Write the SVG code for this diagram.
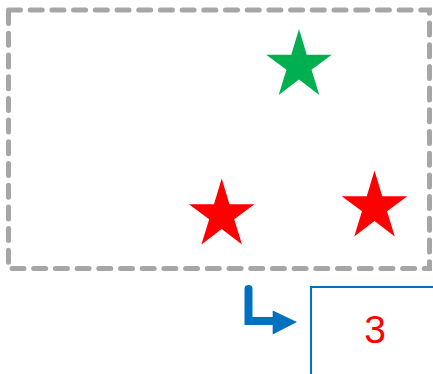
<svg xmlns="http://www.w3.org/2000/svg" width="433" height="374" viewBox="0 0 433 374">
<style>
.frame{fill:none;stroke:#A6A6A6;stroke-width:5;stroke-dasharray:12 9.7;stroke-linecap:round}
.box{fill:#FFFFFF;stroke:#0070C0;stroke-width:2}
.lbl{font-family:"Liberation Sans",Arial,sans-serif;font-size:39px;fill:#FF0000;text-anchor:middle}
.conn{fill:none;stroke:#0070C0;stroke-width:8;stroke-linecap:round;stroke-linejoin:miter}
</style>
<defs>
<path id="star" d="M0,0 L7.75,25.8 L32.8,25.8 L12.53,40.8 L20.3,66 L0,50.4 L-20.3,66 L-12.53,40.8 L-32.8,25.8 L-7.75,25.8 Z"/>
</defs>
<rect class="frame" x="8.5" y="10" width="421" height="258.5"/>
<g id="star-green"><use href="#star" x="299" y="29" fill="#00B050"/></g>
<g id="star-red-1"><use href="#star" x="221.7" y="178.5" fill="#FF0000"/></g>
<g id="star-red-2"><use href="#star" x="374.5" y="170.5" fill="#FF0000"/></g>
<g id="node-3">
<rect class="box" x="311" y="287" width="140" height="100"/>
<text class="lbl" x="375" y="343">3</text>
</g>
<g id="connectors">
<path class="conn" d="M248.5,289 L248.5,321 L276,321"/>
<polygon points="272.7,310.5 297,322 272.7,334.5" fill="#0070C0"/>
</g>
</svg>
